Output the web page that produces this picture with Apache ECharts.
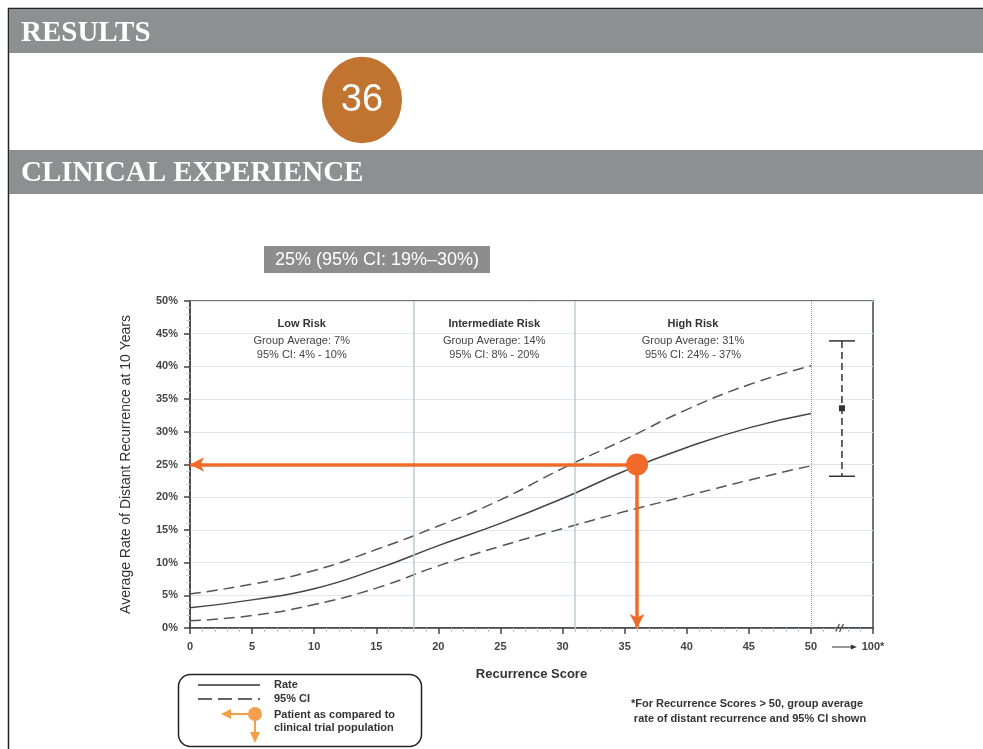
<!DOCTYPE html>
<html>
<head>
<meta charset="utf-8">
<script src="https://cdn.jsdelivr.net/npm/echarts@6/dist/echarts.min.js"></script>
<style>
  html, body { margin: 0; padding: 0; background: #fff; }
  #main { width: 983px; height: 749px; }
</style>
</head>
<body>
<div id="main"></div>
<script>
var scores = [0, 5, 10, 15, 20, 25, 30, 35, 40, 45, 50];
var rate   = [3.1, 4.3, 6.0, 9.0, 12.6, 16.0, 19.8, 24.0, 27.6, 30.6, 32.8];
var upper  = [5.2, 6.7, 8.8, 12.0, 15.6, 19.6, 24.4, 28.8, 33.4, 37.2, 40.1];
var lower  = [1.1, 1.9, 3.6, 6.1, 9.5, 12.5, 15.2, 17.8, 20.2, 22.6, 24.8];

// group average for scores > 50: [x, mean, low, high]
var highGroup = [[52.5, 33.6, 23.2, 43.9]];

var patient = [36, 25];
var cutoffs = [18, 31];
var riskGroups = [
  { name: 'Low Risk', avg: '7%', ci: '4% - 10%', from: 0, to: 18 },
  { name: 'Intermediate Risk', avg: '14%', ci: '8% - 20%', from: 18, to: 31 },
  { name: 'High Risk', avg: '31%', ci: '24% - 37%', from: 31, to: 50 }
];

var FONT = '"Liberation Sans", Arial, Helvetica, sans-serif';
var SERIF = '"Liberation Serif", "Times New Roman", serif';
var ORANGE = '#f06a2a';

function pairs(ys) {
  return scores.map(function (x, i) { return [x, ys[i]]; });
}

var chart = echarts.init(document.getElementById('main'));

var option = {
  animation: false,
  textStyle: { fontFamily: FONT },
  grid: {
    left: 190, right: 110, top: 301, bottom: 121,
    show: true, borderColor: '#444', borderWidth: 1.5, backgroundColor: 'transparent'
  },
  xAxis: {
    type: 'value', min: 0, max: 55, interval: 5,
    name: 'Recurrence Score', nameLocation: 'middle', nameGap: 40,
    nameTextStyle: { fontSize: 13, fontWeight: 'bold', color: '#333' },
    axisLine: { lineStyle: { color: '#444', width: 1.5 } },
    axisTick: { show: true, length: 6, lineStyle: { color: '#444', width: 1.5 } },
    minorTick: { show: true, splitNumber: 5, length: 4, lineStyle: { color: '#b8c8d4' } },
    axisLabel: {
      fontSize: 11, fontWeight: 'bold', color: '#444', margin: 13,
      formatter: function (v) { return v === 55 ? '100*' : String(v); }
    },
    splitLine: { show: false }
  },
  yAxis: {
    type: 'value', min: 0, max: 50, interval: 5,
    name: 'Average Rate of Distant Recurrence at 10 Years',
    nameLocation: 'middle', nameGap: 57,
    nameTextStyle: { fontSize: 14, color: '#333' },
    axisLine: { lineStyle: { color: '#444', width: 1.5 } },
    axisTick: { show: true, length: 6, lineStyle: { color: '#444', width: 1.5 } },
    minorTick: { show: true, splitNumber: 5, length: 4, lineStyle: { color: '#c3d2dc' } },
    axisLabel: {
      fontSize: 11, fontWeight: 'bold', color: '#444', margin: 12,
      formatter: function (v) { return v + '%'; }
    },
    splitLine: { show: true, lineStyle: { color: '#dde7ee', width: 1 } }
  },
  series: [
    {
      name: 'Rate', type: 'line', data: pairs(rate), smooth: true,
      showSymbol: false, silent: true,
      lineStyle: { color: '#444', width: 1.5 },
      markLine: {
        silent: true, symbol: 'none', label: { show: false },
        data: cutoffs.map(function (c) {
          return { xAxis: c, lineStyle: { color: '#b9ccd9', width: 1.5, type: 'solid' } };
        }).concat([{ xAxis: 50, lineStyle: { color: '#7e9cb2', width: 1, type: 'dotted' } }])
      },
      markArea: {
        silent: true,
        itemStyle: { color: 'rgba(0,0,0,0)' },
        label: {
          position: 'insideTop', distance: 13, color: '#333',
          rich: {
            t: { fontSize: 11, fontWeight: 'bold', color: '#333', lineHeight: 20, fontFamily: FONT },
            n: { fontSize: 11, color: '#444', lineHeight: 14, fontFamily: FONT }
          }
        },
        data: riskGroups.map(function (g) {
          return [
            { xAxis: g.from, yAxis: 50,
              label: { formatter: '{t|' + g.name + '}\n{n|Group Average: ' + g.avg + '}\n{n|95% CI: ' + g.ci + '}' } },
            { xAxis: g.to, yAxis: 0 }
          ];
        })
      }
    },
    {
      name: 'Upper CI', type: 'line', data: pairs(upper), smooth: true,
      showSymbol: false, silent: true,
      lineStyle: { color: '#555', width: 1.5, type: [11, 6] }
    },
    {
      name: 'Lower CI', type: 'line', data: pairs(lower), smooth: true,
      showSymbol: false, silent: true,
      lineStyle: { color: '#555', width: 1.5, type: [11, 6] }
    },
    {
      name: 'High group', type: 'custom', data: highGroup, silent: true,
      renderItem: function (params, api) {
        var c = api.coord([api.value(0), api.value(1)]);
        var lo = api.coord([api.value(0), api.value(2)]);
        var hi = api.coord([api.value(0), api.value(3)]);
        var half = 13;
        var st = { stroke: '#333', lineWidth: 1.5 };
        return {
          type: 'group',
          children: [
            { type: 'line', shape: { x1: c[0], y1: hi[1], x2: c[0], y2: lo[1] },
              style: { stroke: '#333', lineWidth: 1.5, lineDash: [7, 4] } },
            { type: 'line', shape: { x1: c[0] - half, y1: hi[1], x2: c[0] + half, y2: hi[1] }, style: st },
            { type: 'line', shape: { x1: c[0] - half, y1: lo[1], x2: c[0] + half, y2: lo[1] }, style: st },
            { type: 'rect', shape: { x: c[0] - 3, y: c[1] - 3, width: 6, height: 6 }, style: { fill: '#333' } }
          ]
        };
      }
    },
    {
      name: 'Patient', type: 'scatter', data: [patient], symbolSize: 22, z: 10,
      silent: true, itemStyle: { color: ORANGE, opacity: 1 },
      markLine: {
        silent: true, symbol: ['none', 'arrow'], symbolSize: [11, 14],
        label: { show: false },
        lineStyle: { color: ORANGE, width: 3.5, type: 'solid' },
        data: [
          [{ coord: patient }, { coord: [0, patient[1]] }],
          [{ coord: patient }, { coord: [patient[0], 0] }]
        ]
      }
    }
  ],
  graphic: [
    // page frame
    { type: 'line', shape: { x1: 8, y1: 8.5, x2: 983, y2: 8.5 }, style: { stroke: '#222', lineWidth: 1.5 } },
    { type: 'line', shape: { x1: 8.5, y1: 8, x2: 8.5, y2: 749 }, style: { stroke: '#222', lineWidth: 1.5 } },
    // header bars
    { type: 'rect', shape: { x: 9, y: 9, width: 974, height: 44 }, style: { fill: '#8e8f91' } },
    { type: 'text', x: 21, y: 34, style: { text: 'RESULTS', fill: '#fff', font: 'bold 29px ' + SERIF, textVerticalAlign: 'middle' } },
    { type: 'rect', shape: { x: 9, y: 150, width: 974, height: 44 }, style: { fill: '#8e8f91' } },
    { type: 'text', x: 21, y: 174, style: { text: 'CLINICAL EXPERIENCE', fill: '#fff', font: 'bold 29px ' + SERIF, textVerticalAlign: 'middle' } },
    // score badge
    { type: 'circle', shape: { cx: 0, cy: 0, r: 40 }, x: 362, y: 100, scaleY: 1.08, style: { fill: '#c0742f' } },
    { type: 'text', x: 362, y: 101, style: { text: '36', fill: '#fff', font: '38px ' + FONT, textAlign: 'center', textVerticalAlign: 'middle' } },
    // summary label
    { type: 'rect', shape: { x: 264, y: 246, width: 226, height: 27 }, style: { fill: '#8d8d8d' } },
    { type: 'text', x: 377, y: 260, style: { text: '25% (95% CI: 19%\u201330%)', fill: '#fff', font: '18px ' + FONT, textAlign: 'center', textVerticalAlign: 'middle' } },
    // legend box
    { type: 'rect', shape: { x: 178.5, y: 674.5, width: 243, height: 72, r: 12 }, style: { fill: 'none', stroke: '#222', lineWidth: 1.5 } },
    { type: 'line', shape: { x1: 198, y1: 685, x2: 260, y2: 685 }, style: { stroke: '#333', lineWidth: 1.5 } },
    { type: 'line', shape: { x1: 198, y1: 699, x2: 260, y2: 699 }, style: { stroke: '#333', lineWidth: 1.5, lineDash: [14, 6] } },
    { type: 'text', x: 274, y: 685, style: { text: 'Rate', fill: '#333', font: 'bold 11px ' + FONT, textVerticalAlign: 'middle' } },
    { type: 'text', x: 274, y: 699, style: { text: '95% CI', fill: '#333', font: 'bold 11px ' + FONT, textVerticalAlign: 'middle' } },
    { type: 'text', x: 274, y: 715, style: { text: 'Patient as compared to', fill: '#333', font: 'bold 11px ' + FONT, textVerticalAlign: 'middle' } },
    { type: 'text', x: 274, y: 728, style: { text: 'clinical trial population', fill: '#333', font: 'bold 11px ' + FONT, textVerticalAlign: 'middle' } },
    { type: 'line', shape: { x1: 255, y1: 714, x2: 229, y2: 714 }, style: { stroke: '#f4a04a', lineWidth: 2 } },
    { type: 'polygon', shape: { points: [[221, 714], [231, 709], [231, 719]] }, style: { fill: '#f4a04a' } },
    { type: 'line', shape: { x1: 255, y1: 714, x2: 255, y2: 734 }, style: { stroke: '#f4a04a', lineWidth: 2 } },
    { type: 'polygon', shape: { points: [[255, 743], [250, 732], [260, 732]] }, style: { fill: '#f4a04a' } },
    { type: 'circle', shape: { cx: 255, cy: 714, r: 7 }, style: { fill: '#f4a04a' } },
    // footnote
    { type: 'text', x: 747, y: 704, style: { text: '*For Recurrence Scores > 50, group average', fill: '#333', font: 'bold 11px ' + FONT, textAlign: 'center', textVerticalAlign: 'middle' } },
    { type: 'text', x: 750, y: 719, style: { text: 'rate of distant recurrence and 95% CI shown', fill: '#333', font: 'bold 11px ' + FONT, textAlign: 'center', textVerticalAlign: 'middle' } }
  ]
};

chart.setOption(option);

// axis decorations: "50 -> 100*" arrow and the // break mark
var a0 = chart.convertToPixel({ gridIndex: 0 }, [51.7, 0]);
var a1 = chart.convertToPixel({ gridIndex: 0 }, [53.7, 0]);
var br = chart.convertToPixel({ gridIndex: 0 }, [52.3, 0]);
var extra = option.graphic.concat([
  { type: 'line', shape: { x1: a0[0], y1: a0[1] + 19, x2: a1[0] - 5, y2: a1[1] + 19 }, style: { stroke: '#333', lineWidth: 1 } },
  { type: 'polygon', shape: { points: [[a1[0], a1[1] + 19], [a1[0] - 6, a1[1] + 16.5], [a1[0] - 6, a1[1] + 21.5]] }, style: { fill: '#333' } },
  { type: 'line', shape: { x1: br[0] - 4, y1: br[1] + 4, x2: br[0], y2: br[1] - 4 }, style: { stroke: '#444', lineWidth: 1.2 } },
  { type: 'line', shape: { x1: br[0], y1: br[1] + 4, x2: br[0] + 4, y2: br[1] - 4 }, style: { stroke: '#444', lineWidth: 1.2 } }
]);
chart.setOption({ graphic: extra });
</script>
</body>
</html>
